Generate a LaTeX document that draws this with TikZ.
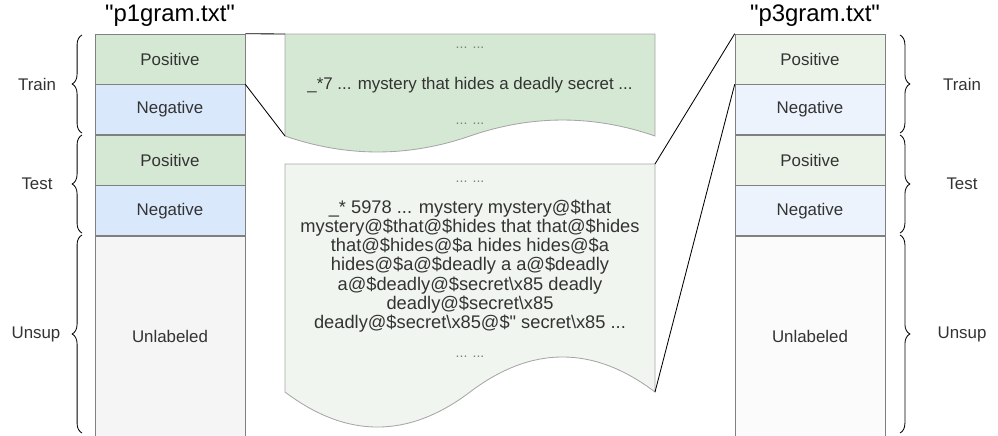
\documentclass[tikz,border=0pt]{standalone}
\usepackage{fontspec}
\newfontfamily\arial{Liberation Sans}
\usetikzlibrary{positioning,decorations.pathreplacing}
\definecolor{posfill}{HTML}{D5E8D4}
\definecolor{negfill}{HTML}{DAE8FC}
\definecolor{unlfill}{HTML}{F5F5F5}
\definecolor{lposfill}{HTML}{EBF3E9}
\definecolor{lnegfill}{HTML}{EDF3FC}
\definecolor{lunlfill}{HTML}{FBFBFB}
\definecolor{docfill}{HTML}{F1F5EF}
\definecolor{cellline}{HTML}{808080}
\definecolor{docline}{HTML}{A6A6A6}
\definecolor{txt}{HTML}{333333}
\begin{document}
\begin{tikzpicture}[x=0.025cm, y=-0.025cm, node distance=0pt,
  cell/.style={draw=cellline, minimum width=3.75cm, inner sep=0pt, text=txt, font=\arial\fontsize{12}{14}\selectfont},
  half/.style={cell, minimum height=1.25cm},
  tall/.style={cell, minimum height=5cm},
  title/.style={font=\arial\fontsize{17}{20}\selectfont},
  side/.style={text=txt, font=\arial\fontsize{12}{14}\selectfont},
  doc/.style={draw=docline, line width=0.6pt},
  doctext/.style={text=txt, align=center, inner sep=0pt},
  dots/.style={text=gray, font=\arial\fontsize{10}{12}\selectfont, inner sep=0pt},
  brace/.style={decorate, decoration={brace, amplitude=7pt}, line width=0.6pt},
  link/.style={line width=0.6pt}]
\useasboundingbox (0,0) rectangle (998,435);

% p1gram column
\node[title] (t1) at (170,16) {"p1gram.txt"};
\node[half, fill=posfill] (lp1) at (170,59) {Positive};
\node[half, fill=negfill, below=of lp1] (ln1) {Negative};
\node[half, fill=posfill, below=of ln1] (lp2) {Positive};
\node[half, fill=negfill, below=of lp2] (ln2) {Negative};
\node[tall, fill=unlfill, below=of ln2] (lu) {Unlabeled};

\draw[brace] (82,133) -- (82,35);
\draw[brace] (82,233) -- (82,135);
\draw[brace] (82,433) -- (82,235);
\node[side] (ltrain) at (37,84) {Train};
\node[side] (ltest) at (37,184) {Test};
\node[side] (lunsup) at (36,334) {Unsup};

% p3gram column
\node[title] (t3) at (815,16) {"p3gram.txt"};
\node[half, fill=lposfill] (rp1) at (810,59) {Positive};
\node[half, fill=lnegfill, below=of rp1] (rn1) {Negative};
\node[half, fill=lposfill, below=of rn1] (rp2) {Positive};
\node[half, fill=lnegfill, below=of rp2] (rn2) {Negative};
\node[tall, fill=lunlfill, below=of rn2] (ru) {Unlabeled};

\draw[brace] (900,35) -- (900,133);
\draw[brace] (900,135) -- (900,233);
\draw[brace] (900,235) -- (900,433);
\node[side] (rtrain) at (962,84) {Train};
\node[side] (rtest) at (962,184) {Test};
\node[side] (runsup) at (962,334) {Unsup};

% sample line of p1gram
\draw[doc, fill=posfill] (285,34) -- (655,34) -- (655,136)
  .. controls (593.3,114.7) and (531.7,114.7) .. (470,136)
  .. controls (408.3,157.3) and (346.7,157.3) .. (285,136) -- cycle;
\coordinate (d1tl) at (285,34);
\coordinate (d1bl) at (285,136);
\node[dots] (d1a) at (470,48) {... ...};
\node[doctext, font=\arial\fontsize{12}{14}\selectfont] (d1txt) at (470,85) {\_*7 ... mystery that hides a deadly secret ...};
\node[dots] (d1b) at (470,124) {... ...};

% sample line of p3gram
\draw[doc, fill=docfill] (285,164) -- (655,164) -- (655,392)
  .. controls (593.3,345.3) and (531.7,345.3) .. (470,392)
  .. controls (408.3,438.7) and (346.7,438.7) .. (285,392) -- cycle;
\coordinate (d2tr) at (655,164);
\coordinate (d2br) at (655,392);
\node[dots] (d2a) at (470,182) {... ...};
\node[doctext, font=\arial\fontsize{13}{13.6}\selectfont] (d2txt) at (470,266) {\_* 5978 ... mystery mystery@\$that\\
mystery@\$that@\$hides that that@\$hides\\
that@\$hides@\$a hides hides@\$a\\
hides@\$a@\$deadly a a@\$deadly\\
a@\$deadly@\$secret\textbackslash x85 deadly\\
deadly@\$secret\textbackslash x85\\
deadly@\$secret\textbackslash x85@\$" secret\textbackslash x85 ...};
\node[dots] (d2b) at (470,357) {... ...};

% zoom lines
\draw[link] (lp1.north east) -- (d1tl);
\draw[link] (lp1.south east) -- (d1bl);
\draw[link] (d2tr) -- (rp1.north west);
\draw[link] (d2br) -- (rp1.south west);
\end{tikzpicture}
\end{document}
